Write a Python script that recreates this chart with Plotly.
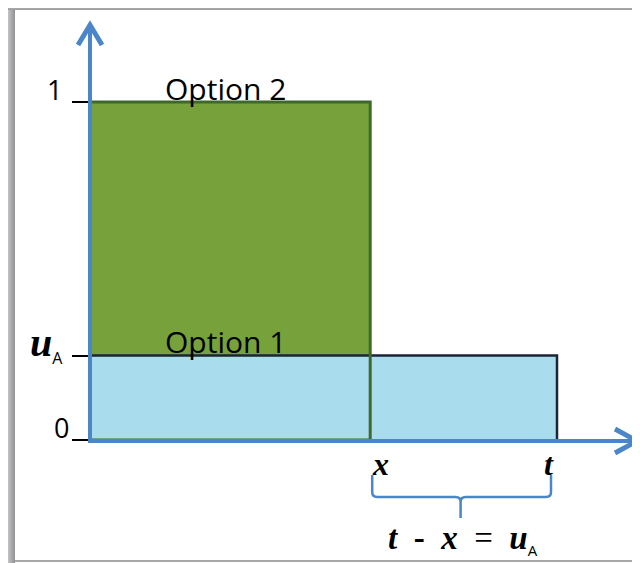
"""
Option 1 / Option 2 area diagram
Recreated with Plotly.
"""

import plotly.graph_objects as go

# values (data units)
x_val = 0.6
t_val = 1.0
u_a = 0.25
top_val = 1.0
y_tick_vals = [0, u_a, top_val]
y_tick_labels = [
    "0",
    "<b><i>u</i></b><sub><span style='font-family:Open Sans;font-size:16px'>A</span></sub>",
    "1",
]
x_tick_vals = [x_val, t_val]
x_tick_labels = ["<b><i>x</i></b>", "<b><i>t</i></b>"]
option_labels = ["Option 1", "Option 2"]
brace_label = (
    "<b><i>t</i></b>\u00a0\u00a0<b>-</b>\u00a0\u00a0<b><i>x</i></b>\u00a0\u00a0=\u00a0\u00a0"
    "<b><i>u</i></b><sub><span style='font-family:Open Sans;font-size:15px'>A</span></sub>"
)

# the page body adds an 8px margin, so the figure is drawn 8px smaller
# and everything is placed in reference-pixel terms minus that offset
OFF = 8
W, H = 640 - OFF, 563 - OFF
X0_REF, Y0_REF = 90, 440
X0_PX, Y0_PX = X0_REF - OFF, Y0_REF - OFF
SX, SY = 467.0, 338.0

GREEN = "#77A13B"
GREEN_DARK = "#3D6A2B"
BLUE_FILL = "#A9DCEC"
NAVY = "#1C2438"
AXIS_BLUE = "#4A86C8"


def dx(p):
    return p / SX


def dy(p):
    return p / SY


x_range = [-X0_PX / SX, (W - X0_PX) / SX]
y_range = [-(H - Y0_PX) / SY, Y0_PX / SY]

fig = go.Figure()

# Option 1 (light blue) area
fig.add_trace(
    go.Scatter(
        x=[0, t_val, t_val, 0, 0],
        y=[0, 0, u_a, u_a, 0],
        fill="toself",
        fillcolor=BLUE_FILL,
        mode="lines",
        line=dict(width=0),
        hoverinfo="skip",
    )
)

# Option 2 (green) area above u_A
fig.add_trace(
    go.Scatter(
        x=[0, x_val, x_val, 0, 0],
        y=[u_a, u_a, top_val, top_val, u_a],
        fill="toself",
        fillcolor=GREEN,
        mode="lines",
        line=dict(width=0),
        hoverinfo="skip",
    )
)

# outline of Option 1
fig.add_trace(
    go.Scatter(
        x=[0, t_val, t_val],
        y=[u_a, u_a, 0],
        mode="lines",
        line=dict(color=NAVY, width=2.5),
        hoverinfo="skip",
    )
)

# outline of Option 2
fig.add_trace(
    go.Scatter(
        x=[0, x_val, x_val, 0, 0],
        y=[0, 0, top_val, top_val, 0],
        mode="lines",
        line=dict(color=GREEN_DARK, width=3),
        hoverinfo="skip",
    )
)

shapes = []

# gray picture frame (only the part right of / below the page margin)
for j in range(15 - OFF):
    g = int(247 - (j + OFF) * 7)
    shapes.append(dict(type="rect", xref="paper", yref="paper",
                       x0=j / W, x1=(j + 1) / W, y0=0, y1=1,
                       line=dict(width=0), fillcolor=f"rgb({g},{g},{g + 3})"))
for j in range(10 - OFF):
    g = int(240 - (j + OFF) * 9)
    shapes.append(dict(type="rect", xref="paper", yref="paper",
                       x0=0, x1=1, y0=1 - (j + 1) / H, y1=1 - j / H,
                       line=dict(width=0), fillcolor=f"rgb({g},{g},{g + 3})"))
shapes.append(dict(type="rect", xref="paper", yref="paper",
                   x0=(15 - OFF) / W, x1=1, y0=1 / H, y1=3 / H,
                   line=dict(width=0), fillcolor="#A8A8A8"))

# axes with open arrow heads
y_tip = dy(Y0_REF - 25)
x_tip = dx(637 - X0_REF)
shapes.append(dict(type="line", x0=0, x1=0, y0=-dy(1), y1=y_tip - dy(2),
                   line=dict(color=AXIS_BLUE, width=4)))
shapes.append(dict(type="line", x0=-dx(2), x1=x_tip - dx(2), y0=-dy(1), y1=-dy(1),
                   line=dict(color=AXIS_BLUE, width=4)))
shapes.append(dict(type="path",
                   path=f"M {-dx(12)},{y_tip - dy(20)} L 0,{y_tip} L {dx(12)},{y_tip - dy(20)}",
                   line=dict(color=AXIS_BLUE, width=5)))
shapes.append(dict(type="path",
                   path=f"M {x_tip - dx(22)},{dy(11)} L {x_tip},{-dy(1)} L {x_tip - dx(22)},{-dy(13)}",
                   line=dict(color=AXIS_BLUE, width=5)))

# brace under the x..t segment
b_top = -dy(35)
b_mid = -dy(57)
b_tip = -dy(78)
r = dx(5)
rv = dy(5)
cx = (x_val + t_val) / 2 - dx(3)
xl = x_val + dx(2)
xr = t_val - dx(6)
shapes.append(dict(
    type="path",
    path=(f"M {xl},{b_top} L {xl},{b_mid + rv} Q {xl},{b_mid} {xl + r},{b_mid} "
          f"L {cx - r},{b_mid} Q {cx},{b_mid} {cx},{b_mid - rv} L {cx},{b_tip} "
          f"M {cx},{b_mid - rv} Q {cx},{b_mid} {cx + r},{b_mid} "
          f"L {xr - r},{b_mid} Q {xr},{b_mid} {xr},{b_mid + rv} L {xr},{b_top}"),
    line=dict(color=AXIS_BLUE, width=2.5),
))

annotations = []

# y labels, sitting a little above their tick marks
label_fonts = [
    dict(family="Open Sans", size=27, color="black"),
    dict(family="Liberation Serif", size=40, color="black"),
    dict(family="Open Sans", size=27, color="black"),
]
label_dx = [-29, -44, -36]
label_dy = [13, 11, 13]
for val, txt, fnt, ox, oy in zip(y_tick_vals, y_tick_labels, label_fonts, label_dx, label_dy):
    annotations.append(dict(x=dx(ox), y=val + dy(oy), text=txt, showarrow=False,
                            font=fnt, xanchor="center", yanchor="middle"))

# x labels
for val, txt, ox in zip(x_tick_vals, x_tick_labels, [10, -8]):
    annotations.append(dict(x=val + dx(ox), y=-dy(24), text=txt, showarrow=False,
                            font=dict(family="Liberation Serif", size=32, color="black"),
                            xanchor="center", yanchor="middle"))

# option labels
for val, txt in zip([u_a, top_val], option_labels):
    annotations.append(dict(x=dx(135), y=val + dy(14), text=txt, showarrow=False,
                            font=dict(family="Open Sans", size=30, color="black"),
                            xanchor="center", yanchor="middle"))

annotations.append(dict(x=cx + dx(2), y=-dy(100), text=brace_label, showarrow=False,
                        font=dict(family="Liberation Serif", size=33, color="black"),
                        xanchor="center", yanchor="middle"))

fig.update_layout(
    width=W,
    height=H,
    margin=dict(l=0, r=0, t=0, b=0, autoexpand=False),
    paper_bgcolor="white",
    plot_bgcolor="white",
    showlegend=False,
    shapes=shapes,
    annotations=annotations,
    xaxis=dict(range=x_range, visible=False, fixedrange=True),
    yaxis=dict(
        range=y_range,
        anchor="free",
        position=X0_PX / W,
        tickvals=y_tick_vals,
        ticks="outside",
        ticklen=18,
        tickwidth=2,
        tickcolor="black",
        showticklabels=False,
        showline=False,
        showgrid=False,
        zeroline=False,
        fixedrange=True,
    ),
)

fig.write_html("out.html")
